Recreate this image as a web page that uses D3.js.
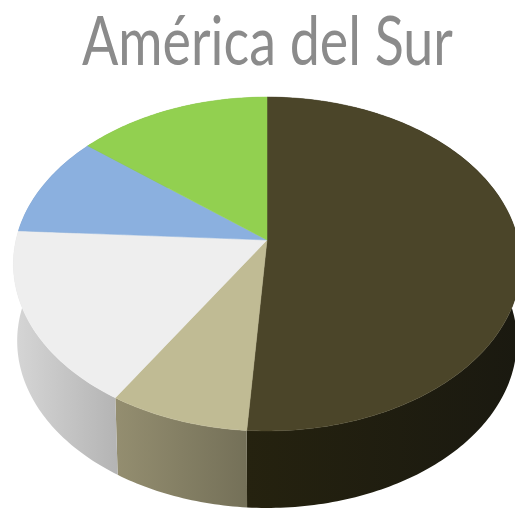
<!DOCTYPE html>
<html>
<head>
<meta charset="utf-8">
<script src="https://cdn.jsdelivr.net/npm/d3@7"></script>
<style>
html, body { margin: 0; padding: 0; background: #fff; overflow: hidden; }
svg { display: block; }
</style>
</head>
<body>
<script>
// values, clockwise from the top (no labels in the chart)
var titleText = 'América del Sur';
var shares = [51.1, 7.8, 17, 9.9, 14.2];
var topColors = ['#4b4529', '#c0bb94', '#eeeeee', '#8bb0df', '#92d050'];
var sideFrom = ['#25220f', '#948e70', '#d6d6d6', '#6f8db2', '#74a640'];
var sideTo = ['#1a1910', '#747058', '#b4b4b4', '#6f8db2', '#74a640'];

var width = 515, height = 508;

// tilted disc: far edge is shrunk a little, so the centre sits above the ellipse middle
var cx = 267, cy = 240;
var radiusX = 251, radiusY = 163.5, tilt = 0.1437;
var depth = 77, bottomScaleX = 0.985;

function project(angle, scaleX, dy) {
    var w = 1 + tilt * Math.cos(angle);
    return [
        cx + scaleX * radiusX * Math.sin(angle) / w,
        cy + dy - radiusY * Math.cos(angle) / w
    ];
}

function sampleAngles(d) {
    var n = Math.max(2, Math.ceil((d.endAngle - d.startAngle) * 60));
    return d3.range(n + 1).map(function (i) {
        return d.startAngle + (d.endAngle - d.startAngle) * i / n;
    });
}

var line = d3.line().curve(d3.curveLinear);

var pie = d3.pie().sort(null).value(function (d) { return d; });
var slices = pie(shares);

var svg = d3.select('body').append('svg')
    .attr('width', width)
    .attr('height', height)
    .attr('viewBox', '0 0 ' + width + ' ' + height);

var title = svg.append('text')
    .style('font-family', 'Lato, "Open Sans", sans-serif')
    .style('font-size', '67px')
    .style('fill', '#8b8b8b')
    .text(titleText);

// the title is squeezed sideways in the original
var titleScale = 371 / title.node().getComputedTextLength();
title.attr('transform', 'translate(82,65) scale(' + titleScale + ',1)');

var defs = svg.append('defs');

function sidePoints(d) {
    var angles = sampleAngles(d);
    var upper = angles.map(function (a) { return project(a, 1, 0); });
    var lower = angles.map(function (a) { return project(a, bottomScaleX, depth); });
    return upper.concat(lower.reverse());
}

slices.forEach(function (d, i) {
    var xs = d3.extent(sidePoints(d), function (p) { return p[0]; });
    var grad = defs.append('linearGradient')
        .attr('id', 'side' + i)
        .attr('gradientUnits', 'userSpaceOnUse')
        .attr('x1', xs[0])
        .attr('x2', xs[1])
        .attr('y1', 0)
        .attr('y2', 0);
    grad.append('stop').attr('offset', 0).attr('stop-color', sideFrom[i]);
    grad.append('stop').attr('offset', 1).attr('stop-color', sideTo[i]);
});

// sides first, the top faces cover whatever is at the back
svg.append('g').selectAll('path').data(slices).enter().append('path')
    .attr('d', function (d) { return line(sidePoints(d)) + 'Z'; })
    .attr('fill', function (d, i) { return 'url(#side' + i + ')'; });

svg.append('g').selectAll('path').data(slices).enter().append('path')
    .attr('d', function (d) {
        var pts = sampleAngles(d).map(function (a) { return project(a, 1, 0); });
        return line([[cx, cy]].concat(pts)) + 'Z';
    })
    .attr('fill', function (d, i) { return topColors[i]; })
    .attr('stroke', function (d, i) { return topColors[i]; })
    .attr('stroke-width', 0.5);
</script>
</body>
</html>
